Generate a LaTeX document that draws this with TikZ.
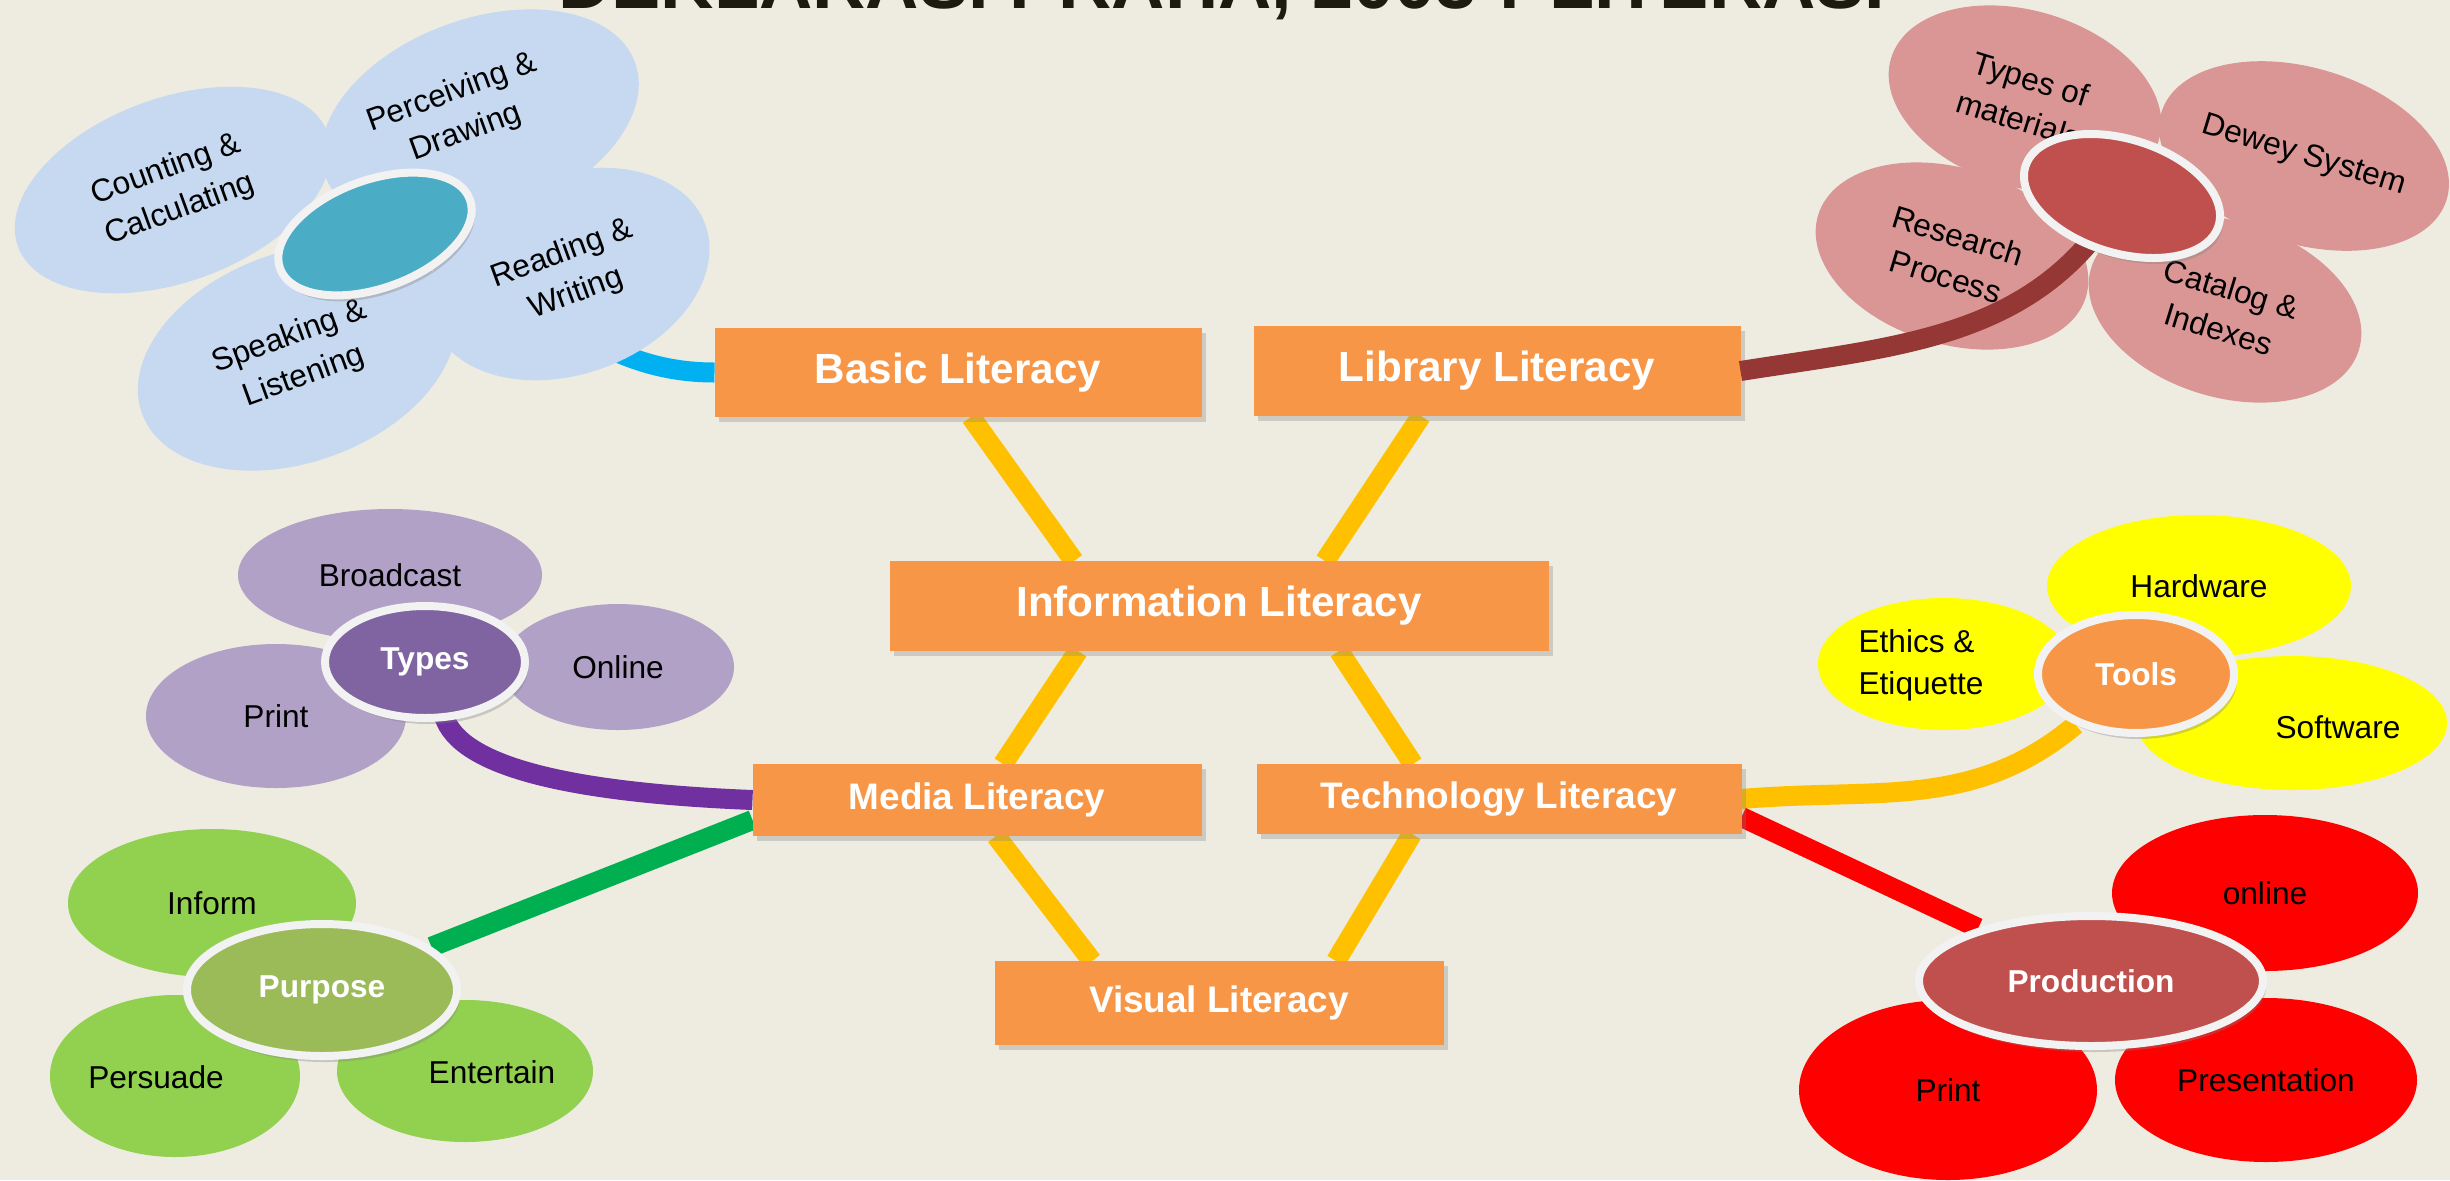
\documentclass[tikz,border=0pt]{standalone}
\usepackage{fontspec}
\setmainfont{Liberation Sans}
\usetikzlibrary{positioning,shapes.geometric,shadows}

\definecolor{bgcol}{HTML}{EEECE1}
\definecolor{titlecol}{HTML}{1D1B10}
\definecolor{boxcol}{HTML}{F79646}
\definecolor{linkcol}{HTML}{FFC000}
\definecolor{ringcol}{HTML}{F2F2F2}
\definecolor{bluepet}{HTML}{C6D9F1}
\definecolor{bluehub}{HTML}{4BACC6}
\definecolor{bluestem}{HTML}{00B0F0}
\definecolor{pinkpet}{HTML}{D99694}
\definecolor{pinkhub}{HTML}{C0504D}
\definecolor{pinkstem}{HTML}{953735}
\definecolor{purppet}{HTML}{B2A1C7}
\definecolor{purphub}{HTML}{8064A2}
\definecolor{purpstem}{HTML}{7030A0}
\definecolor{greenpet}{HTML}{92D050}
\definecolor{greenhub}{HTML}{9BBB59}
\definecolor{greenstem}{HTML}{00B050}
\definecolor{yellowpet}{HTML}{FFFF00}
\definecolor{redpet}{HTML}{FF0000}

\pgfdeclarelayer{bgfill}
\pgfdeclarelayer{links}
\pgfsetlayers{bgfill,links,main}

\begin{document}
\begin{tikzpicture}[
    lit/.style={fill=boxcol,text=white,inner sep=0pt,outer sep=0pt,
      font=\bfseries\fontsize{12}{14}\selectfont,
      drop shadow={opacity=0.3,shadow xshift=0.04cm,shadow yshift=-0.05cm}},
    minor/.style={font=\bfseries\fontsize{10.5}{12}\selectfont},
    link/.style={draw=linkcol,line width=0.2cm},
    stem/.style={draw=#1,line width=0.2cm},
    petal/.style={ellipse,fill=#1,inner sep=0pt,align=center,
      font=\fontsize{9}{12}\selectfont},
    ptext/.style={inner sep=0pt,align=center,font=\fontsize{9}{12}\selectfont},
    hub/.style={ellipse,fill=#1,draw=ringcol,line width=0.08cm,inner sep=0pt,
      text=white,font=\bfseries\fontsize{9}{11}\selectfont,
      drop shadow={opacity=0.35,shadow xshift=0.03cm,shadow yshift=-0.06cm}}
]
    % Page and title
    \useasboundingbox (0,0) rectangle (24.5,-11.8);
    \begin{pgfonlayer}{bgfill}
      \fill[bgcol] (0,0) rectangle (24.5,-11.8);
    \end{pgfonlayer}
    \node[anchor=base,text=titlecol,font=\bfseries\fontsize{21}{25}\selectfont] (title) at (12.22,-0.08) {DEKLARASI PRAHA, 2003 : LITERASI};

    % Literacy boxes
    \node[lit,minimum width=6.59cm,minimum height=0.9cm] (info) at (12.19,-6.06) {Information Literacy};
    \node[lit,minimum width=4.87cm,minimum height=0.89cm] (basic) [above left=1.44cm and -3.12cm of info] {Basic Literacy};
    \node[lit,minimum width=4.87cm,minimum height=0.9cm] (library) [above right=1.45cm and -2.95cm of info] {Library Literacy};
    \node[lit,minor,minimum width=4.49cm,minimum height=0.72cm] (media) [below left=1.13cm and -3.12cm of info] {Media Literacy};
    \node[lit,minor,minimum width=4.85cm,minimum height=0.7cm] (tech) [below right=1.13cm and -2.92cm of info] {Technology Literacy};
    \node[lit,minor,minimum width=4.49cm,minimum height=0.84cm] (visual) [below=3.1cm of info] {Visual Literacy};

    % Basic literacy flower
    \coordinate (bc) at (3.75,-2.34);
    \node[petal=bluepet,minimum width=3.3cm,minimum height=1.84cm,rotate=20] (count) at ([shift={(-2.02,0.44)}]bc) {Counting \&\\Calculating};
    \node[petal=bluepet,minimum width=3.3cm,minimum height=2cm,rotate=20] (perceive) at ([shift={(1.05,1.15)}]bc) {};
    \node[petal=bluepet,minimum width=2.9cm,minimum height=2cm,rotate=20] (read) at ([shift={(1.94,-0.4)}]bc) {Reading \&\\Writing};
    \node[petal=bluepet,minimum width=3.3cm,minimum height=2.1cm,rotate=20] (speak) at ([shift={(-0.78,-1.23)}]bc) {Speaking \&\\Listening};
    \node[ptext,rotate=20] (perceivetxt) at ([shift={(0.84,1.21)}]bc) {Perceiving \&\\Drawing};
    \node[hub=bluehub,minimum width=2.02cm,minimum height=1.08cm,rotate=20] (basichub) at (bc) {};

    % Library literacy flower
    \coordinate (lc) at (21.22,-1.96);
    \node[petal=pinkpet,minimum width=2.8cm,minimum height=1.76cm,rotate=-17] (material) at ([shift={(-0.97,0.97)}]lc) {Types of\\materials};
    \node[petal=pinkpet,minimum width=2.8cm,minimum height=1.76cm,rotate=-17] (dewey) at ([shift={(1.82,0.4)}]lc) {Dewey System};
    \node[petal=pinkpet,minimum width=2.8cm,minimum height=1.76cm,rotate=-17] (catalog) at ([shift={(1.03,-1.13)}]lc) {Catalog \&\\Indexes};
    \node[petal=pinkpet,minimum width=2.8cm,minimum height=1.76cm,rotate=-17] (research) at ([shift={(-1.7,-0.6)}]lc) {Research\\Process};
    \draw[stem=pinkstem] (library.east) to[out=9,in=-120] (lc);
    \node[hub=pinkhub,minimum width=2.02cm,minimum height=1.14cm,rotate=-17] (libhub) at (lc) {};

    % Media literacy: types
    \coordinate (tc) at (4.25,-6.62);
    \node[petal=purppet,minimum width=3.04cm,minimum height=1.32cm] (broadcast) at ([shift={(-0.35,0.87)}]tc) {Broadcast};
    \node[petal=purppet,minimum width=2.32cm,minimum height=1.26cm] (online) at ([shift={(1.93,-0.05)}]tc) {Online};
    \node[petal=purppet,minimum width=2.6cm,minimum height=1.44cm] (print) at ([shift={(-1.49,-0.54)}]tc) {Print};
    \node[hub=purphub,minimum width=2cm,minimum height=1.12cm] (typehub) at (tc) {Types};

    % Media literacy: purpose
    \coordinate (pc) at (3.22,-9.9);
    \node[petal=greenpet,minimum width=2.88cm,minimum height=1.48cm] (inform) at ([shift={(-1.1,0.87)}]pc) {Inform};
    \node[petal=greenpet,minimum width=2.5cm,minimum height=1.62cm] (persuade) at ([shift={(-1.47,-0.86)}]pc) {};
    \node[petal=greenpet,minimum width=2.56cm,minimum height=1.42cm] (entertain) at ([shift={(1.43,-0.81)}]pc) {};
    \node[ptext] (persuadetxt) at ([shift={(-1.66,-0.87)}]pc) {Persuade};
    \node[ptext] (entertaintxt) at ([shift={(1.7,-0.82)}]pc) {Entertain};
    \node[hub=greenhub,minimum width=2.7cm,minimum height=1.32cm] (purposehub) at (pc) {Purpose};

    % Technology literacy: tools
    \coordinate (oc) at (21.36,-6.74);
    \node[petal=yellowpet,minimum width=3.04cm,minimum height=1.42cm] (hardware) at ([shift={(0.63,0.88)}]oc) {Hardware};
    \node[petal=yellowpet,minimum width=2.52cm,minimum height=1.32cm] (ethics) at ([shift={(-1.92,0.1)}]oc) {};
    \node[petal=yellowpet,minimum width=3.1cm,minimum height=1.34cm] (software) at ([shift={(1.56,-0.49)}]oc) {};
    \node[ptext,align=left] (ethicstxt) at ([shift={(-2.15,0.09)}]oc) {Ethics \&\\Etiquette};
    \node[ptext] (softwaretxt) at ([shift={(2.02,-0.53)}]oc) {Software};
    \node[hub=boxcol,minimum width=1.96cm,minimum height=1.18cm] (toolhub) at (oc) {Tools};

    % Technology literacy: production
    \coordinate (rc) at (20.91,-9.81);
    \node[petal=redpet,minimum width=3.06cm,minimum height=1.56cm] (webprod) at ([shift={(1.74,0.88)}]rc) {online};
    \node[petal=redpet,minimum width=2.98cm,minimum height=1.8cm] (printprod) at ([shift={(-1.43,-1.09)}]rc) {Print};
    \node[petal=redpet,minimum width=3.02cm,minimum height=1.64cm] (present) at ([shift={(1.75,-0.99)}]rc) {Presentation};
    \node[hub=pinkhub,minimum width=3.44cm,minimum height=1.3cm] (prodhub) at (rc) {Production};

    \begin{pgfonlayer}{links}
      % links between the literacies
      \draw[link] ([xshift=0.13cm]basic.south) -- ([xshift=-1.45cm]info.north);
      \draw[link] ([xshift=-0.76cm]library.south) -- ([xshift=1.06cm]info.north);
      \draw[link] ([xshift=-1.41cm]info.south) -- ([xshift=0.26cm]media.north);
      \draw[link] ([xshift=1.2cm]info.south) -- ([xshift=-0.86cm]tech.north);
      \draw[link] ([xshift=0.19cm]media.south) -- ([xshift=-1.27cm]visual.north);
      \draw[link] ([xshift=-0.87cm]tech.south) -- ([xshift=1.17cm]visual.north);
      % stems to the flowers
      \draw[stem=bluestem] (basic.west) to[out=180,in=-30] (basichub);
      \draw[stem=purpstem] ([shift={(0.18,0.1)}]typehub.south) .. controls +(0.1,-0.5) and +(-2,0.08) .. (media.west);
      \draw[stem=greenstem] (purposehub) -- ([yshift=-0.2cm]media.west);
      \draw[stem=linkcol] (tech.east) to[out=5,in=-140] (toolhub);
      \draw[stem=red] ([yshift=-0.18cm]tech.east) -- ([shift={(-0.31,0.38)}]prodhub);
    \end{pgfonlayer}
\end{tikzpicture}
\end{document}
